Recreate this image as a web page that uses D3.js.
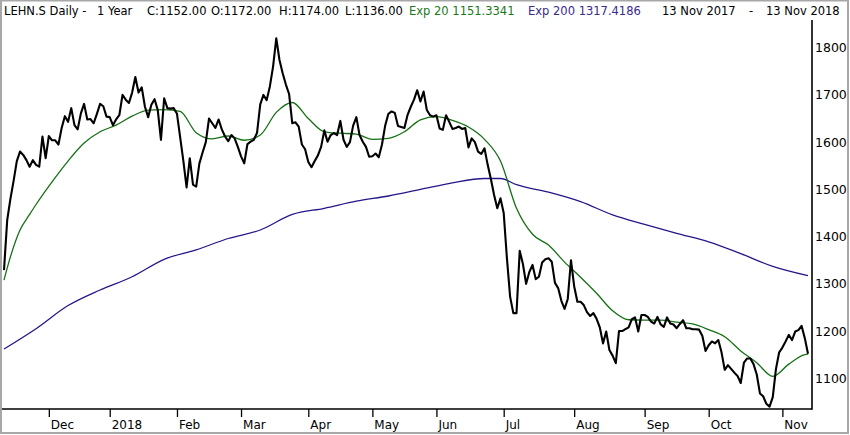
<!DOCTYPE html>
<html>
<head>
<meta charset="utf-8">
<script src="https://cdn.jsdelivr.net/npm/d3@7"></script>
<style>
  html, body { margin: 0; padding: 0; background: #fff; }
  svg { display: block; }
</style>
</head>
<body>
<svg id="chart" width="850" height="435"></svg>
<script>
// ---- data (trading-day index 0 = 13 Nov 2017 ... 251 = 13 Nov 2018) ----
const closes = [
1329,1435,1480,1518,1560,1580,1573,1562,1548,1562,
1552,1548,1612,1566,1613,1604,1604,1595,1630,1655,
1643,1672,1636,1627,1661,1681,1648,1649,1640,1660,
1681,1676,1654,1653,1636,1648,1657,1700,1690,1683,
1705,1738,1705,1716,1675,1653,1679,1691,1668,1605,
1693,1672,1671,1672,1660,1610,1560,1504,1566,1510,
1506,1555,1578,1600,1650,1640,1630,1648,1627,1612,
1602,1615,1608,1590,1570,1555,1596,1601,1605,1620,
1680,1700,1689,1718,1760,1820,1774,1746,1722,1702,
1640,1642,1633,1595,1585,1558,1547,1560,1572,1590,
1625,1601,1615,1619,1615,1645,1605,1590,1600,1635,
1653,1615,1601,1590,1569,1570,1576,1568,1595,1635,
1660,1665,1662,1634,1632,1630,1658,1675,1690,1710,
1686,1707,1668,1657,1654,1657,1629,1626,1657,1643,
1628,1630,1633,1628,1630,1589,1608,1600,1580,1575,
1587,1552,1522,1488,1460,1481,1450,1355,1273,1238,
1238,1370,1342,1300,1325,1340,1310,1315,1345,1352,
1354,1347,1302,1291,1264,1247,1268,1350,1295,1262,
1262,1255,1240,1232,1238,1226,1208,1174,1199,1160,
1148,1132,1200,1200,1204,1208,1225,1229,1199,1234,
1234,1230,1220,1216,1230,1214,1209,1229,1216,1214,
1206,1215,1223,1206,1206,1204,1204,1203,1190,1158,
1170,1178,1174,1181,1155,1118,1128,1120,1112,1105,
1090,1133,1142,1142,1130,1108,1068,1062,1046,1040,
1060,1120,1155,1165,1178,1192,1181,1199,1202,1211,
1185,1152];

const ema20Days   = [0,2,5,8,10,15,20,25,30,35,40,45,50,55,60,65,70,75,80,85,90,95,100,105,110,115,120,125,130,135,140,145,150,155,160,165,170,175,180,185,190,195,200,205,210,215,220,225,230,235,240,245,250,251];
const ema20Values = [1308,1357,1414,1447,1468,1516,1560,1598,1622,1636,1655,1668,1669,1665,1620,1607,1613,1604,1615,1663,1684,1650,1622,1619,1617,1606,1608,1622,1647,1654,1646,1632,1606,1560,1460,1405,1382,1346,1314,1280,1243,1224,1223,1223,1219,1215,1203,1188,1158,1133,1104,1130,1150,1151.3];

const ema200Days   = [0,10,20,30,40,50,60,70,80,90,100,110,120,130,140,150,155,160,170,180,190,200,210,220,230,240,251];
const ema200Values = [1162,1205,1254,1287,1315,1352,1372,1396,1414,1447,1460,1475,1486,1500,1514,1523,1523,1510,1494,1474,1446,1426,1407,1389,1364,1337,1317.4];

const monthTickDays   = [14,33,54,74,95,115,135,156,178,200,220,243];
const monthTickLabels = ["Dec","2018","Feb","Mar","Apr","May","Jun","Jul","Aug","Sep","Oct","Nov"];
const priceTicks = [1100,1200,1300,1400,1500,1600,1700,1800];

const headerParts = [
  {t:"LEHN.S Daily -", c:"#000", x:4},
  {t:"1 Year", c:"#000", x:97},
  {t:"C:1152.00", c:"#000", x:147},
  {t:"O:1172.00", c:"#000", x:211},
  {t:"H:1174.00", c:"#000", x:279},
  {t:"L:1136.00", c:"#000", x:345},
  {t:"Exp 20 1151.3341", c:"#1a7a1a", x:409},
  {t:"Exp 200 1317.4186", c:"#3a2a8a", x:528},
  {t:"13 Nov 2017", c:"#000", x:662},
  {t:"-", c:"#000", x:749},
  {t:"13 Nov 2018", c:"#000", x:766}
];

// ---- drawing ----
const svg = d3.select("#chart");
const W = 850, H = 435;
const plot = {left: 2, right: 812, top: 20, bottom: 409};

const x = d3.scaleLinear().domain([0, 251]).range([4, 808]);
const y = d3.scaleLinear().domain([1100, 1800]).range([378.3, 47.7]);

svg.append("rect").attr("width", W).attr("height", H).attr("fill", "#fff");

svg.append("defs").append("clipPath").attr("id", "clip")
  .append("rect").attr("x", plot.left).attr("y", plot.top)
  .attr("width", plot.right - plot.left).attr("height", plot.bottom - plot.top);

const g = svg.append("g").attr("clip-path", "url(#clip)");

const emaLine = d3.line().x(d => x(d[0])).y(d => y(d[1])).curve(d3.curveMonotoneX);

g.append("path")
  .datum(ema200Days.map((d, i) => [d, ema200Values[i]]))
  .attr("d", emaLine).attr("fill", "none")
  .attr("stroke", "#24178a").attr("stroke-width", 1.3);

g.append("path")
  .datum(ema20Days.map((d, i) => [d, ema20Values[i]]))
  .attr("d", emaLine).attr("fill", "none")
  .attr("stroke", "#157015").attr("stroke-width", 1.3);

g.append("path")
  .datum(closes.map((v, i) => [i, v]))
  .attr("d", d3.line().x(d => x(d[0])).y(d => y(d[1])))
  .attr("fill", "none").attr("stroke", "#000")
  .attr("stroke-width", 2.1).attr("stroke-linejoin", "round");

// bottom axis
const xAxis = d3.axisBottom(x)
  .tickValues(monthTickDays)
  .tickFormat((d, i) => monthTickLabels[i])
  .tickSize(8).tickSizeOuter(0);
const gx = svg.append("g").attr("transform", `translate(0,${plot.bottom})`).call(xAxis);
gx.select(".domain").remove();
gx.selectAll(".tick line").attr("stroke", "#000").attr("stroke-width", 1.3);
gx.selectAll(".tick text")
  .attr("text-anchor", "start").attr("x", 1.5).attr("y", 11).attr("dy", "0.71em")
  .attr("fill", "#000").style("font-family", "'DejaVu Sans', sans-serif").style("font-size", "12px");

svg.append("line").attr("x1", 0).attr("x2", plot.right)
  .attr("y1", plot.bottom).attr("y2", plot.bottom)
  .attr("stroke", "#000").attr("stroke-width", 1.6);

// right axis
const yAxis = d3.axisRight(y).tickValues(priceTicks).tickFormat(d3.format("d")).tickSize(0);
const gy = svg.append("g").attr("transform", `translate(${plot.right},0)`).call(yAxis);
gy.select(".domain").remove();
gy.selectAll(".tick text").attr("x", 3).attr("fill", "#000")
  .style("font-family", "'DejaVu Sans', sans-serif").style("font-size", "12.5px");

svg.append("line").attr("x1", plot.right).attr("x2", plot.right)
  .attr("y1", plot.top).attr("y2", plot.bottom + 0.8)
  .attr("stroke", "#000").attr("stroke-width", 1.6);

// header
svg.append("g").selectAll("text").data(headerParts).join("text")
  .attr("x", d => d.x).attr("y", 15)
  .attr("fill", d => d.c)
  .style("font-family", "'DejaVu Sans', sans-serif").style("font-size", "11.5px")
  .text(d => d.t);

// outer frame
svg.append("rect").attr("x", 1).attr("y", 0.5).attr("width", W - 3).attr("height", H - 2.5)
  .attr("fill", "none").attr("stroke", "#a8a8a8").attr("stroke-width", 2);
</script>
</body>
</html>
